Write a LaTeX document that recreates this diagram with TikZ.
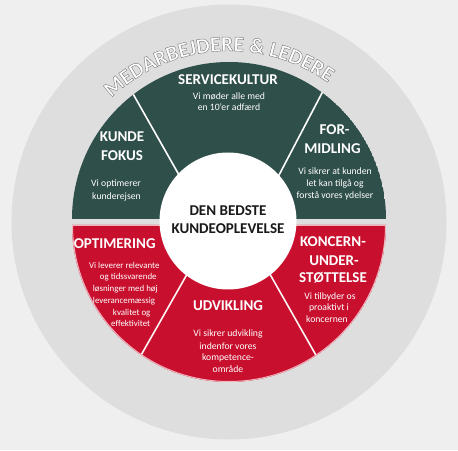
\documentclass[tikz,border=0pt]{standalone}
\usepackage{fontspec}
\setmainfont{Carlito}
\usetikzlibrary{decorations.text}
\definecolor{bgc}{RGB}{238,239,238}
\definecolor{ringc}{RGB}{221,222,221}
\definecolor{darkc}{RGB}{47,79,74}
\definecolor{redc}{RGB}{200,16,46}
\definecolor{pinkc}{RGB}{242,178,188}
\newcommand\ringfont{\fontsize{21.5}{21.5}\selectfont\bfseries}
\newcommand\outlinetext{\special{pdf:literal 2 Tr 0.45 w 0.5 0.5 0.5 RG}}
\begin{document}
\begin{tikzpicture}[x=1pt,y=1pt,
  head/.style={font=\fontsize{15}{15}\selectfont\bfseries, text=white, anchor=base, inner sep=0pt},
  subt/.style={font=\fontsize{9.7}{9.7}\selectfont, text=white, anchor=base, inner sep=0pt},
  subs/.style={font=\fontsize{8.9}{8.9}\selectfont, text=white, anchor=base, inner sep=0pt},
  sepline/.style={white, line width=1.6pt},
  seplinered/.style={white!85!pink, line width=1.6pt}]
\useasboundingbox (0,0) rectangle (458,450);
\fill[bgc] (0,0) rectangle (458,450);
\fill[ringc] (229,228) circle (217.5);
% ring text
\path[decorate, decoration={text along path, text align=center,
  text={|\color{white}\ringfont\outlinetext|MEDARBEJDERE {\&} LEDERE}}]
  (229,228) ++(154:171) arc (154:34:171);
% top half
\begin{scope}
\clip (72,231) arc (180:0:157) -- cycle;
\fill[darkc] (72,231) arc (180:0:157) -- cycle;
\coordinate (tl) at (204,231);
\coordinate (tle) at (110.4,396);
\coordinate (tr) at (256,231);
\coordinate (tre) at (341.8,394.8);
\draw[sepline] (tl) -- (tle);
\draw[sepline] (tr) -- (tre);
\end{scope}
% bottom half
\begin{scope}
\clip (72,225) arc (180:360:157) -- cycle;
\fill[redc] (72,225) arc (180:360:157) -- cycle;
\coordinate (bl) at (215,225);
\coordinate (ble) at (117.5,53.4);
\coordinate (br) at (242,225);
\coordinate (bre) at (339.5,53.4);
\draw[seplinered] (bl) -- (ble);
\draw[seplinered] (br) -- (bre);
\draw[pinkc, line width=2pt] (72,225) arc (180:360:157) -- cycle;
\end{scope}
% centre
\fill[white] (228,229) circle (68.5);
\node[head, text=black!90] (c1) at (228,234) {DEN BEDSTE};
\node[head, text=black!90] (c2) at (228,216.7) {KUNDEOPLEVELSE};
% servicekultur
\node[head] (s1) at (228,365.2) {SERVICEKULTUR};
\node[subt] (s2) at (229,350.5) {Vi møder alle med};
\node[subt] (s3) at (229,339.5) {en 10’er adfærd};
% kundefokus
\node[head] (k1) at (122,308.2) {KUNDE};
\node[head] (k2) at (122,289.2) {FOKUS};
\node[subt] (k3) at (116,263.5) {Vi optimerer};
\node[subt] (k4) at (116.5,250.5) {kunderejsen};
% formidling
\node[head] (f1) at (334.6,315.2) {FOR-};
\node[head] (f2) at (332.5,296.2) {MIDLING};
\node[subt] (f3) at (335,275.5) {Vi sikrer at kunden};
\node[subt] (f4) at (335,263.5) {let kan tilgå og};
\node[subt] (f5) at (335,251.5) {forstå vores ydelser};
% optimering
\node[head] (o1) at (114.7,201.7) {OPTIMERING};
\node[subs] (o2) at (124.3,181.7) {Vi leverer relevante};
\node[subs] (o3) at (128.3,170) {og tidssvarende};
\node[subs] (o4) at (125.3,158.3) {løsninger med høj};
\node[subs] (o5) at (124,146.6) {leverancemæssig};
\node[subs] (o6) at (131.7,134.9) {kvalitet og};
\node[subs] (o7) at (130.7,123.2) {effektivitet};
% udvikling
\node[head] (u1) at (228,139.3) {UDVIKLING};
\node[subt] (u2) at (228,113.4) {Vi sikrer udvikling};
\node[subt] (u3) at (228,100.7) {indenfor vores};
\node[subt] (u4) at (228,89) {kompetence-};
\node[subt] (u5) at (228,77.4) {område};
% koncernunderstoettelse
\node[head] (n1) at (333,203.2) {KONCERN-};
\node[head] (n2) at (334,184.2) {UNDER-};
\node[head] (n3) at (333,167.2) {STØTTELSE};
\node[subt] (n4) at (330,150.7) {Vi tilbyder os};
\node[subt] (n5) at (329,139.4) {proaktivt i};
\node[subt] (n6) at (327,127.4) {koncernen};
\end{tikzpicture}
\end{document}
